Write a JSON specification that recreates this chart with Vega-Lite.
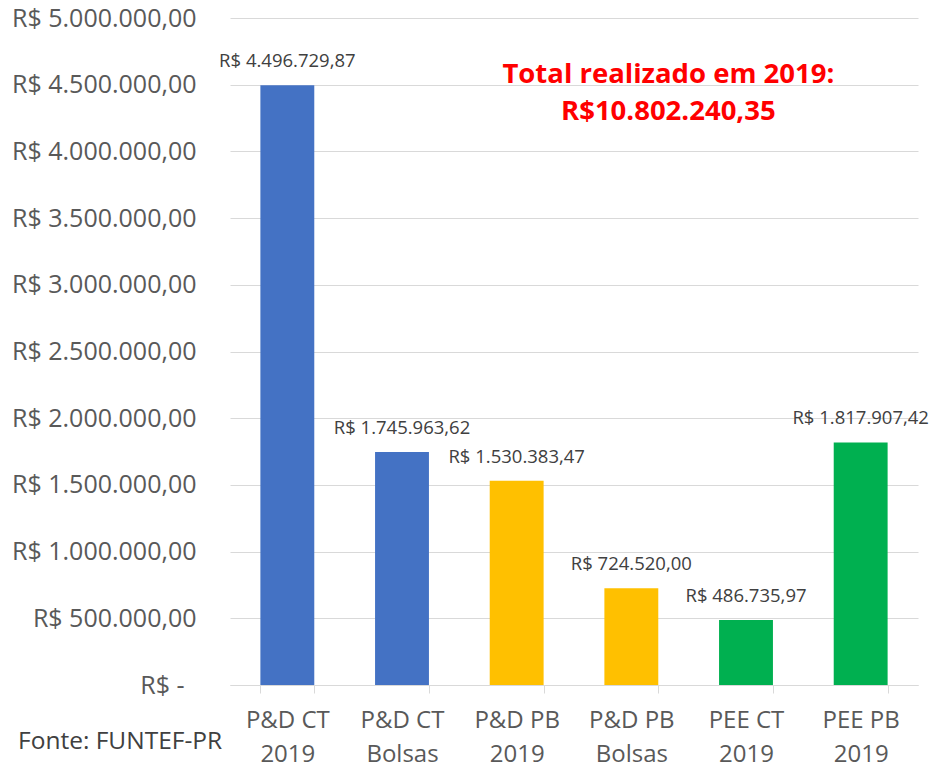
{
  "$schema": "https://vega.github.io/schema/vega-lite/v6.json",
  "width": 688,
  "height": 667,
  "autosize": "none",
  "padding": {"left": 230, "top": 18, "right": 17, "bottom": 83},
  "background": "white",
  "data": {
    "values": [
      {"categoria": "P&D CT 2019", "programa": "P&D CT", "valor": 4496729.87},
      {"categoria": "P&D CT Bolsas", "programa": "P&D CT", "valor": 1745963.62},
      {"categoria": "P&D PB 2019", "programa": "P&D PB", "valor": 1530383.47},
      {"categoria": "P&D PB Bolsas", "programa": "P&D PB", "valor": 724520.00},
      {"categoria": "PEE CT 2019", "programa": "PEE", "valor": 486735.97},
      {"categoria": "PEE PB 2019", "programa": "PEE", "valor": 1817907.42}
    ]
  },
  "title": {
    "text": "Fonte: FUNTEF-PR",
    "orient": "bottom",
    "anchor": "start",
    "frame": "group",
    "dx": -212,
    "dy": -40,
    "fontSize": 24.5,
    "fontWeight": "normal",
    "color": "#404040",
    "font": "Open Sans",
    "baseline": "top"
  },
  "layer": [
    {
      "mark": {"type": "bar"},
      "encoding": {
        "x": {
          "field": "categoria",
          "type": "nominal",
          "sort": null,
          "scale": {"paddingInner": 0.53, "paddingOuter": 0.265},
          "axis": {
            "title": null,
            "labelAngle": 0,
            "labelFontSize": 24,
            "labelFont": "Open Sans",
            "labelColor": "#595959",
            "labelLineHeight": 34,
            "labelPadding": 15,
            "labelBaseline": "top",
            "labelOverlap": false,
            "labelLimit": 0,
            "labelExpr": "[slice(datum.label, 0, lastindexof(datum.label, ' ')), slice(datum.label, lastindexof(datum.label, ' ') + 1)]",
            "domainColor": "#d9d9d9",
            "tickColor": "#d9d9d9",
            "tickSize": 8,
            "tickBand": "extent",
            "grid": false
          }
        },
        "y": {
          "field": "valor",
          "type": "quantitative",
          "scale": {"domain": [0, 5000000], "nice": false},
          "axis": {
            "title": null,
            "values": [0, 500000, 1000000, 1500000, 2000000, 2500000, 3000000, 3500000, 4000000, 4500000, 5000000],
            "format": "$,.2f",
            "labelExpr": "datum.value == 0 ? 'R$ -' : datum.label",
            "domain": false,
            "ticks": false,
            "gridColor": "#d9d9d9",
            "gridWidth": 1,
            "labelPadding": {"condition": {"test": "datum.value == 0", "value": 46}, "value": 34},
            "labelLimit": 0,
            "labelFontSize": 25,
            "labelFont": "Open Sans",
            "labelColor": "#595959"
          }
        },
        "color": {
          "field": "programa",
          "type": "nominal",
          "scale": {"domain": ["P&D CT", "P&D PB", "PEE"], "range": ["#4472C4", "#FFC000", "#00B050"]},
          "legend": null
        }
      }
    },
    {
      "mark": {"type": "text", "dy": -24, "fontSize": 18.5, "font": "Open Sans", "color": "#404040", "baseline": "middle"},
      "encoding": {
        "x": {"field": "categoria", "type": "nominal", "sort": null},
        "y": {"field": "valor", "type": "quantitative"},
        "text": {"field": "valor", "type": "quantitative", "format": "$,.2f"}
      }
    },
    {
      "data": {"values": [{"anotacao": "Total realizado em 2019:\nR$10.802.240,35"}]},
      "mark": {
        "type": "text",
        "fontSize": 27.5,
        "fontWeight": "bold",
        "font": "Open Sans",
        "color": "#FF0000",
        "align": "center",
        "baseline": "middle",
        "dx": 37,
        "lineHeight": 37,
        "lineBreak": "\n"
      },
      "encoding": {
        "x": {"datum": "P&D PB Bolsas", "type": "nominal"},
        "y": {"datum": 4573000, "type": "quantitative"},
        "text": {"field": "anotacao", "type": "nominal"}
      }
    }
  ],
  "config": {
    "locale": {
      "number": {"decimal": ",", "thousands": ".", "grouping": [3], "currency": ["R$ ", ""]}
    },
    "view": {"stroke": null}
  }
}
